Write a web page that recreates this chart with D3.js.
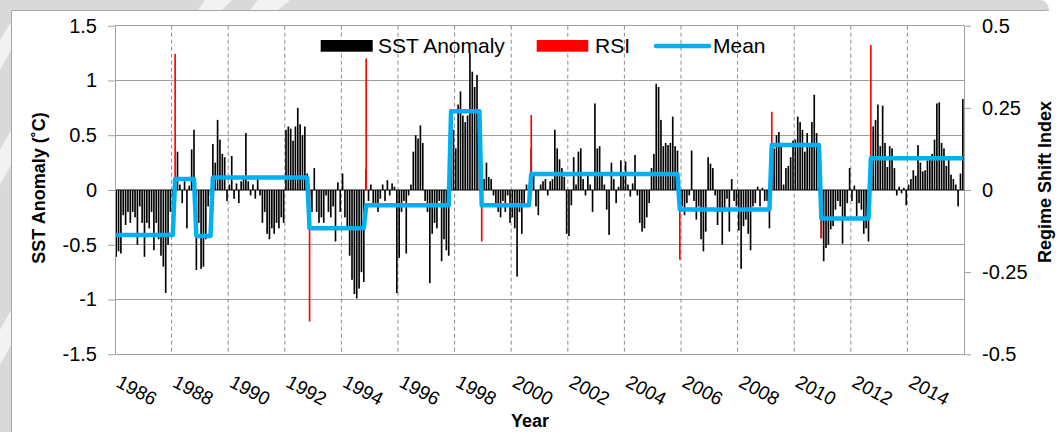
<!DOCTYPE html>
<html><head><meta charset="utf-8">
<script src="https://cdn.jsdelivr.net/npm/d3@7"></script>
<style>body{margin:0;background:#fff;} svg{display:block;font-family:"Liberation Sans",Arial,sans-serif;}</style>
</head><body><svg id="c" width="1060" height="432"></svg>
<script>
// ---- data (monthly, Jan 1986 .. Dec 2015) ----
const startYear = 1986;
const sstAnomaly = [
-0.61,-0.56,-0.58,-0.23,-0.32,-0.20,-0.30,-0.20,-0.25,-0.50,-0.15,-0.30, // 1986
-0.61,-0.30,-0.35,-0.20,-0.55,-0.30,-0.45,-0.60,-0.70,-0.94,-0.50,-0.20, // 1987
-0.05,0.10,0.35,0.05,-0.12,0.08,-0.35,0.04,0.37,0.55,-0.73,-0.30,         // 1988
-0.72,-0.70,-0.45,-0.15,-0.05,0.42,0.25,0.64,0.46,0.33,0.30,-0.10,        // 1989
0.05,0.31,-0.08,0.06,-0.12,0.08,0.10,0.52,0.08,-0.05,0.05,-0.08,          // 1990
0.10,-0.05,-0.30,-0.20,-0.40,-0.45,-0.35,-0.40,-0.30,-0.35,-0.25,-0.30,   // 1991
0.55,0.58,0.56,0.45,0.58,0.75,0.60,0.50,0.58,0.15,-0.05,-0.20,            // 1992
0.20,-0.20,-0.30,-0.25,-0.30,-0.05,-0.20,-0.25,-0.15,-0.47,0.07,-0.20,    // 1993
0.15,-0.25,-0.35,-0.60,-0.82,-0.95,-0.99,-0.90,-0.75,-0.84,0.19,-0.10,    // 1994
0.05,-0.15,-0.12,-0.20,-0.08,0.05,-0.10,0.09,-0.05,0.06,0.03,-0.94,       // 1995
-0.62,-0.20,-0.10,-0.58,-0.05,0.05,0.35,0.50,0.47,0.59,0.43,-0.10,        // 1996
-0.20,-0.85,-0.40,-0.30,-0.35,-0.10,-0.65,-0.45,-0.55,-0.60,0.35,0.55,    // 1997
0.38,0.78,0.90,0.68,0.62,0.68,1.25,1.08,0.94,1.05,0.67,-0.05,             // 1998
0.10,0.25,0.12,0.10,-0.05,-0.15,-0.20,-0.25,-0.10,-0.20,-0.05,-0.30,      // 1999
-0.25,-0.35,-0.79,-0.20,-0.40,-0.15,0.05,-0.10,0.38,0.15,-0.15,-0.23,     // 2000
0.05,0.08,0.10,-0.05,0.08,0.10,0.55,0.38,0.28,0.20,0.12,-0.40,            // 2001
-0.42,-0.14,0.30,0.05,0.35,0.38,0.10,-0.05,0.15,0.05,-0.20,0.79,          // 2002
0.38,0.40,0.14,0.05,-0.18,-0.41,0.25,0.10,-0.12,0.03,0.27,0.15,           // 2003
0.26,0.05,-0.06,0.06,0.32,-0.05,-0.30,-0.38,-0.35,-0.25,-0.12,0.20,       // 2004
0.33,0.97,0.94,0.64,0.40,0.43,0.41,0.43,0.67,0.40,0.36,-0.10,             // 2005
-0.15,-0.23,-0.12,-0.05,0.36,-0.10,-0.27,-0.15,-0.45,-0.56,-0.38,0.30,    // 2006
0.24,0.20,-0.05,-0.32,-0.20,-0.50,-0.18,-0.08,-0.38,0.10,-0.10,-0.15,     // 2007
-0.37,-0.72,-0.33,-0.27,-0.40,-0.55,-0.15,-0.12,0.03,-0.15,0.02,-0.10,    // 2008
-0.10,-0.35,0.35,0.38,0.50,0.53,0.40,0.05,0.20,0.22,0.30,0.45,            // 2009
0.46,0.67,0.62,0.55,0.35,0.52,0.40,0.62,0.87,0.52,0.40,-0.44,             // 2010
-0.65,-0.53,-0.50,-0.36,-0.33,-0.18,-0.10,-0.15,-0.49,-0.27,-0.12,0.20,   // 2011
-0.10,0.04,-0.24,-0.12,-0.18,-0.40,-0.35,-0.47,0.30,0.58,0.64,0.78,       // 2012
0.40,0.77,0.43,0.21,0.40,0.38,0.20,-0.05,0.03,-0.03,0.02,-0.14,           // 2013
0.05,0.10,0.18,0.13,0.41,0.25,0.17,0.18,0.27,0.30,0.33,0.46,              // 2014
0.79,0.80,0.43,0.38,0.22,0.30,0.14,0.10,0.05,-0.15,0.15,0.83              // 2015
];
// Regime shift index (month index, value on right axis)
const rsiMonth = [25, 82, 106, 155, 176, 239, 278, 299, 320];
const rsiValue = [0.414, -0.40, 0.40, -0.157, 0.228, -0.212, 0.238, -0.147, 0.441];
// Regime means (start month index, mean SST anomaly)
const regimeStart = [0, 25, 34, 41, 82, 106, 142, 155, 176, 239, 278, 299, 320];
const regimeMean  = [-0.41, 0.10, -0.42, 0.115, -0.35, -0.14, 0.72, -0.14, 0.146, -0.177, 0.41, -0.26, 0.29];
// ticks
const yearLabels = [1986,1988,1990,1992,1994,1996,1998,2000,2002,2004,2006,2008,2010,2012,2014];
const leftTicks  = [1.5, 1, 0.5, 0, -0.5, -1, -1.5];
const rightTicks = [0.5, 0.25, 0, -0.25, -0.5];
const seriesNames = ["SST Anomaly", "RSI", "Mean"];

// ---- drawing ----
const svg = d3.select("#c");
const L = 115, R = 964, T = 25.7, B = 354.3;
const months = d3.range(sstAnomaly.length);
const gapP = 0.3;
const x = d3.scaleBand().domain(months).range([L, R]).paddingInner(gapP).paddingOuter(gapP / 2);
const xEdge = d3.scaleLinear().domain([0, sstAnomaly.length]).range([L, R]);
const yL = d3.scaleLinear().domain([-1.5, 1.5]).range([B, T]);
const yR = d3.scaleLinear().domain([-0.5, 0.5]).range([B, T]);
const gridCol = "#a0a0a0";

// frame / background
svg.append("rect").attr("width", 1060).attr("height", 432).attr("fill", "#fff");
svg.append("path").attr("d", "M0,0 H1040 Q1048,0 1049,10 H0 Z").attr("fill", "#d9d9d9");
svg.append("rect").attr("x", 0).attr("y", 0).attr("width", 11).attr("height", 432).attr("fill", "#d9d9d9");
const wm = [[205,0,232,0,222,10,198,10],[258,0,290,0,278,10,250,10],[0,40,11,22,11,50,0,70],[0,150,11,130,11,165,0,185],[0,330,11,310,11,345,0,365]];
svg.selectAll("polygon.wm").data(wm).join("polygon").attr("class","wm")
  .attr("points", d => [[d[0],d[1]],[d[2],d[3]],[d[4],d[5]],[d[6],d[7]]].map(p => p.join(",")).join(" "))
  .attr("fill", "#f2f2f2");
svg.append("path").attr("d", "M11.5,432 V10.5 H1041 Q1048,10.5 1049,10").attr("fill", "none").attr("stroke", "#a6a6a6").attr("stroke-width", 1);

// horizontal gridlines
svg.append("g").selectAll("line").data(leftTicks.filter(d => d !== 0)).join("line")
  .attr("x1", L).attr("x2", R).attr("y1", d => yL(d)).attr("y2", d => yL(d))
  .attr("stroke", gridCol).attr("stroke-width", 1).attr("shape-rendering", "crispEdges");

// vertical dashed gridlines at year-label boundaries
const yearIdx = yearLabels.map(y => (y - startYear) * 12);
svg.append("g").selectAll("line").data(yearIdx.filter(i => i > 0)).join("line")
  .attr("x1", d => xEdge(d)).attr("x2", d => xEdge(d)).attr("y1", T).attr("y2", B)
  .attr("stroke", "#8c8c8c").attr("stroke-width", 1).attr("stroke-dasharray", "4,3");

// SST bars
const bw = x.bandwidth();
svg.append("g").selectAll("rect").data(months).join("rect")
  .attr("x", m => x(m)).attr("width", bw)
  .attr("y", m => yL(Math.max(0, sstAnomaly[m])))
  .attr("height", m => Math.abs(yL(sstAnomaly[m]) - yL(0)))
  .attr("fill", "#000");

// zero (category axis) line
svg.append("line").attr("x1", L).attr("x2", R).attr("y1", yL(0)).attr("y2", yL(0))
  .attr("stroke", "#000").attr("stroke-width", 1);

// RSI bars (secondary axis)
svg.append("g").selectAll("rect").data(rsiMonth.map((m, i) => ({m, v: rsiValue[i]}))).join("rect")
  .attr("x", d => x(d.m)).attr("width", bw)
  .attr("y", d => yR(Math.max(0, d.v)))
  .attr("height", d => Math.abs(yR(d.v) - yR(0)))
  .attr("fill", "#ff0000");

// regime mean line
const meanOf = m => { let v = regimeMean[0]; regimeStart.forEach((s, i) => { if (m >= s) v = regimeMean[i]; }); return v; };
svg.append("path").datum(months)
  .attr("d", d3.line().x(m => x(m) + bw / 2).y(m => yL(meanOf(m))))
  .attr("fill", "none").attr("stroke", "#00b0f0").attr("stroke-width", 4.5)
  .attr("stroke-linejoin", "round").attr("stroke-linecap", "butt");

// axes
const styleAxis = g => {
  g.select(".domain").attr("stroke", gridCol);
  g.selectAll(".tick line").attr("stroke", gridCol);
  g.selectAll(".tick text").attr("font-size", 20).attr("fill", "#000").attr("font-family", '"Liberation Sans", Arial, sans-serif');
};
svg.append("g").attr("transform", `translate(${L},0)`)
  .call(d3.axisLeft(yL).tickValues(leftTicks).tickFormat(d => String(d)).tickSize(7).tickSizeOuter(0).tickPadding(11))
  .call(styleAxis);
svg.append("g").attr("transform", `translate(${R},0)`)
  .call(d3.axisRight(yR).tickValues(rightTicks).tickFormat(d => String(d)).tickSize(7).tickSizeOuter(0).tickPadding(11))
  .call(styleAxis);

// year labels (rotated)
svg.append("g").selectAll("text").data(yearLabels).join("text")
  .attr("transform", y => `translate(${xEdge((y - startYear) * 12)},386) rotate(28)`)
  .attr("font-size", 19).attr("fill", "#000").text(y => y);

// axis titles
svg.append("text").attr("transform", "translate(45,188) rotate(-90)").attr("text-anchor", "middle")
  .attr("font-size", 18).attr("font-weight", "bold").text("SST Anomaly (˚C)");
svg.append("text").attr("transform", "translate(1051,182) rotate(-90)").attr("text-anchor", "middle")
  .attr("font-size", 18).attr("font-weight", "bold").text("Regime Shift Index");
svg.append("text").attr("x", 530).attr("y", 427).attr("text-anchor", "middle")
  .attr("font-size", 18).attr("font-weight", "bold").text("Year");

// legend
const lg = svg.append("g");
const legX = [320.7, 536.7, 656];
const legText = [378, 595, 713];
lg.append("rect").attr("x", legX[0]).attr("y", 40).attr("width", 52).attr("height", 11.7).attr("fill", "#000");
lg.append("rect").attr("x", legX[1]).attr("y", 40).attr("width", 51.6).attr("height", 11.7).attr("fill", "#ff0000");
lg.append("line").attr("x1", legX[2]).attr("x2", legX[2] + 53).attr("y1", 46).attr("y2", 46)
  .attr("stroke", "#00b0f0").attr("stroke-width", 4.5).attr("stroke-linecap", "round");
lg.selectAll("text").data(seriesNames).join("text")
  .attr("x", (d, i) => legText[i]).attr("y", 53.3).attr("font-size", 21).attr("fill", "#000").text(d => d);
</script></body></html>
